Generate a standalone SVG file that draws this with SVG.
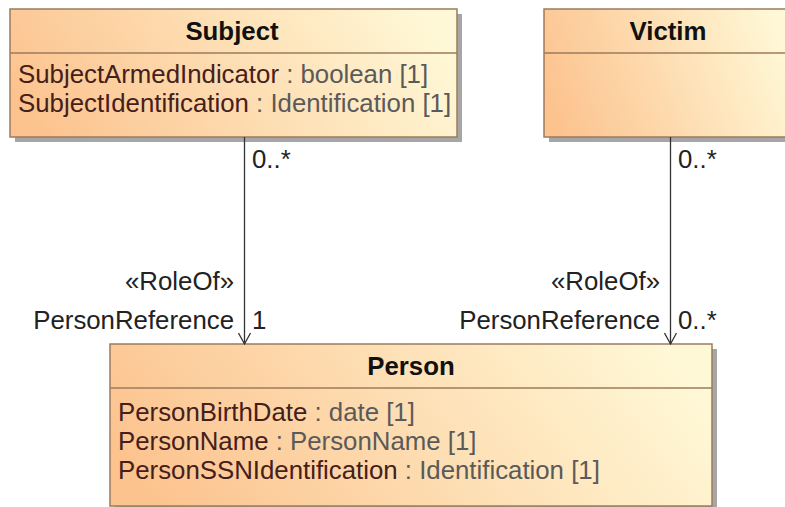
<svg xmlns="http://www.w3.org/2000/svg" width="785" height="507" viewBox="0 0 785 507">
<style>
.box{stroke:#9c7b5b;stroke-width:1.5;fill:url(#g)}
.shadow{fill:#a6a6a6}
.div{stroke:#9c7b5b;stroke-width:1.5}
.title{font-family:"Liberation Sans",Arial,sans-serif;font-size:25.8px;font-weight:bold;fill:#111;text-anchor:middle}
.attr{font-family:"Liberation Sans",Arial,sans-serif;font-size:25.8px;fill:#45201b}
.ty{fill:#5a5a5a}
.lbl{font-family:"Liberation Sans",Arial,sans-serif;font-size:25.8px;fill:#222}
.end{text-anchor:end}
.conn{stroke:#333;stroke-width:1.3;fill:none}
</style>
<defs>
<linearGradient id="g" x1="0" y1="0.6" x2="1" y2="0.4">
<stop offset="0" stop-color="#fcc38f"/>
<stop offset="1" stop-color="#fff8d6"/>
</linearGradient>
<marker id="arr" markerWidth="14" markerHeight="14" refX="12" refY="7" orient="auto" markerUnits="userSpaceOnUse">
<path d="M1,1 L12,7 L1,13" fill="none" stroke="#333" stroke-width="1.3"/>
</marker>
</defs>
<g id="Subject">
<rect class="shadow" x="15" y="14" width="447" height="128"/>
<rect class="box" x="10" y="9" width="447" height="128"/>
<line class="div" x1="10" y1="53" x2="457" y2="53"/>
<text class="title" x="232" y="40">Subject</text>
<text class="attr" x="18" y="83">SubjectArmedIndicator<tspan class="ty"> : boolean [1]</tspan></text>
<text class="attr" x="18" y="112">SubjectIdentification<tspan class="ty"> : Identification [1]</tspan></text>
</g>
<g id="Victim">
<rect class="shadow" x="549" y="14" width="248" height="128"/>
<rect class="box" x="544" y="9" width="248" height="128"/>
<line class="div" x1="544" y1="53" x2="792" y2="53"/>
<text class="title" x="668" y="40">Victim</text>
</g>
<g id="Person">
<rect class="shadow" x="115" y="349" width="602" height="162"/>
<rect class="box" x="110" y="344" width="602" height="162"/>
<line class="div" x1="110" y1="388" x2="712" y2="388"/>
<text class="title" x="411" y="375">Person</text>
<text class="attr" x="118" y="421">PersonBirthDate<tspan class="ty"> : date [1]</tspan></text>
<text class="attr" x="118" y="450">PersonName<tspan class="ty"> : PersonName [1]</tspan></text>
<text class="attr" x="118" y="479">PersonSSNIdentification<tspan class="ty"> : Identification [1]</tspan></text>
</g>
<g id="connectors">
<line class="conn" x1="244.5" y1="137" x2="244.5" y2="344" marker-end="url(#arr)"/>
<text class="lbl" x="252" y="168">0..*</text>
<text class="lbl end" x="234" y="290">«RoleOf»</text>
<text class="lbl end" x="234" y="329">PersonReference</text>
<text class="lbl" x="252" y="329">1</text>
<line class="conn" x1="670.5" y1="137" x2="670.5" y2="344" marker-end="url(#arr)"/>
<text class="lbl" x="678" y="168">0..*</text>
<text class="lbl end" x="660" y="290">«RoleOf»</text>
<text class="lbl end" x="660" y="329">PersonReference</text>
<text class="lbl" x="678" y="329">0..*</text>
</g>
</svg>
